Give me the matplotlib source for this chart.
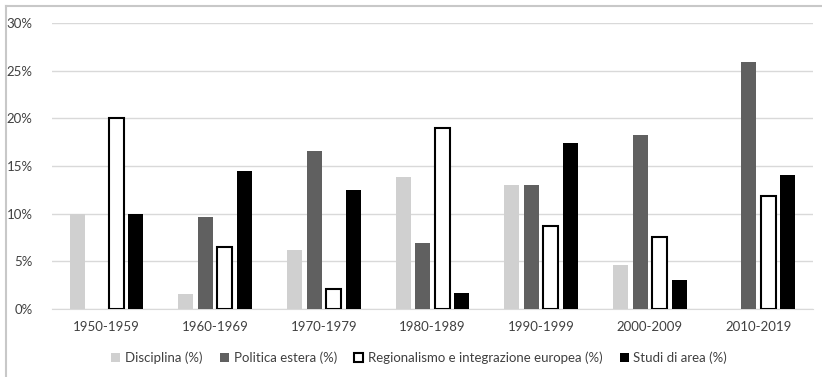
import numpy as np
import matplotlib
matplotlib.use("Agg")
import matplotlib.pyplot as plt
from matplotlib.lines import Line2D
from matplotlib.ticker import FuncFormatter

plt.rcParams['font.family'] = ['Lato', 'DejaVu Sans']

decades = ['1950-1959', '1960-1969', '1970-1979', '1980-1989',
           '1990-1999', '2000-2009', '2010-2019']
disciplina = [10.0, 1.6, 6.2, 13.8, 13.0, 4.6, 0.0]
politica_estera = [0.0, 9.7, 16.6, 6.9, 13.0, 18.2, 25.9]
regionalismo = [20.0, 6.5, 2.1, 19.0, 8.7, 7.6, 11.8]
studi_area = [10.0, 14.5, 12.5, 1.7, 17.4, 3.0, 14.1]

labels = ['Disciplina (%)', 'Politica estera (%)',
          'Regionalismo e integrazione europea (%)', 'Studi di area (%)']

fig = plt.figure(figsize=(8.22, 3.77), dpi=100)
ax = fig.add_axes([0.0633, 0.1804, 0.9257, 0.7586])

x = np.arange(len(decades))
w = 0.138
step = 0.18
styles = [
    dict(color='#d0d0d0'),
    dict(color='#606060'),
    dict(facecolor='white', edgecolor='black', linewidth=1.5),
    dict(color='black'),
]
series = [disciplina, politica_estera, regionalismo, studi_area]
for i, (vals, st, lab) in enumerate(zip(series, styles, labels)):
    ax.bar(x + (i - 1.5) * step, vals, width=w, label=lab, zorder=3, **st)

ax.set_xlim(-0.5, len(decades) - 0.5)
ax.set_ylim(0, 30)
ax.set_yticks(range(0, 31, 5))
ax.yaxis.set_major_formatter(FuncFormatter(lambda v, p: f'{int(v)}%'))
ax.set_xticks(x)
ax.set_xticklabels(decades)
ax.grid(axis='y', color='#d9d9d9', linewidth=1, zorder=0)
for s in ['top', 'right', 'left']:
    ax.spines[s].set_visible(False)
ax.spines['bottom'].set_color('#d9d9d9')
ax.tick_params(axis='both', length=0, labelsize=9.5, colors='#404040')
ax.tick_params(axis='x', pad=9)
ax.tick_params(axis='y', pad=14)

leg = fig.legend(loc='center', bbox_to_anchor=(0.51, 0.05), ncol=4,
                 frameon=False, fontsize=9.5, handlelength=0.7,
                 handleheight=0.7, handletextpad=0.35, columnspacing=1.3)
for t in leg.get_texts():
    t.set_color('#404040')

# chart frame: only top and left edges fall inside the image
fx, fy = 5.5 / 822, 1 - 5.5 / 377
fig.add_artist(Line2D([fx, 1.01], [fy, fy], transform=fig.transFigure,
                      color='#c8c8c8', linewidth=1.5))
fig.add_artist(Line2D([fx, fx], [-0.01, fy], transform=fig.transFigure,
                      color='#c8c8c8', linewidth=1.5))

fig.savefig('out.png', dpi=100)
